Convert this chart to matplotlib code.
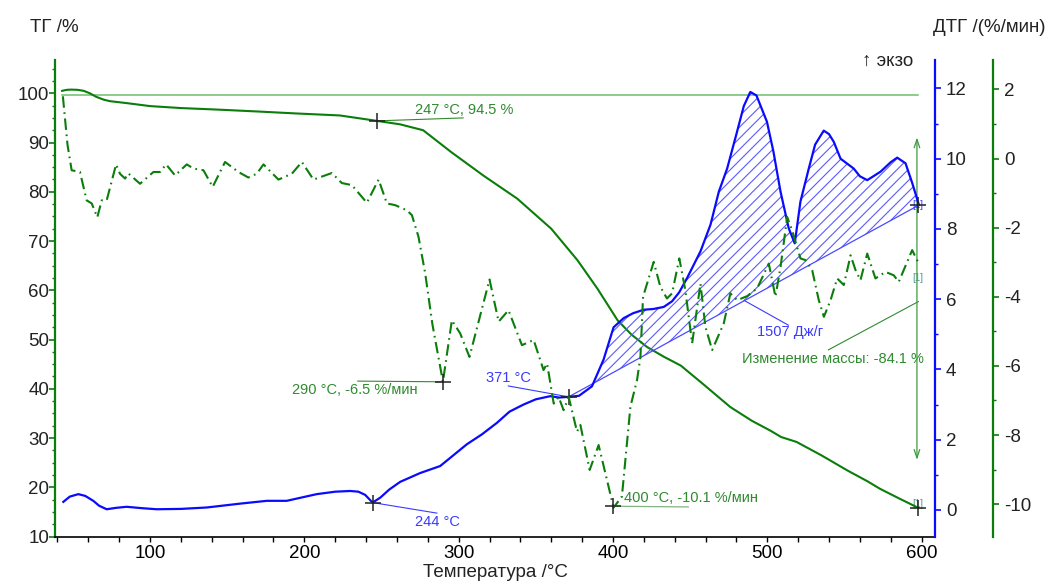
import matplotlib
matplotlib.use("Agg")
import matplotlib.pyplot as plt
import numpy as np

plt.rcParams['font.family'] = ['Liberation Sans', 'DejaVu Sans']
plt.rcParams['hatch.linewidth'] = 0.8
plt.rcParams['axes.unicode_minus'] = False

# TG, %
tg_t = [43, 46, 49, 53, 57, 61, 65, 70, 74, 85, 100, 120, 143, 170, 195, 223, 247, 262, 277, 295,
        316, 338, 360, 377, 390, 403, 412, 422, 433, 444, 459, 476, 490, 502, 509, 519, 535, 552,
        565, 573, 585, 598]
tg_v = [100.5, 100.7, 100.75, 100.7, 100.5, 100.0, 99.3, 98.7, 98.4, 98.0, 97.4, 97.0, 96.7, 96.3,
        95.9, 95.5, 94.4, 93.7, 92.5, 88.1, 83.3, 78.6, 72.5, 66.1, 60.3, 53.9, 51.0, 48.5, 46.5,
        44.7, 40.8, 36.3, 33.5, 31.5, 30.2, 29.2, 26.5, 23.4, 21.2, 19.7, 17.8, 15.8]

# DTG, %/min
dtg_t = [43.5, 46.5, 49.2, 54.6, 58.9, 62.2, 65.8, 68.7, 71.9, 78, 80.5, 83.8, 85.9, 93.5, 102.2,
         106.5, 110.4, 116.2, 123.8, 128.1, 134.6, 140.6, 148.6, 157.3, 163.7, 169.2, 173.5, 183.2,
         191.9, 198.4, 205.9, 217.8, 224.3, 230.8, 240.5, 248.1, 253.5, 258.9, 266.5, 269.7, 274,
         278.3, 283, 289.8, 295.6, 301, 307, 320, 325.9, 332.3, 341, 348.6, 355, 357.3, 361.6,
         364.8, 368, 371.3, 376.7, 378.9, 384.9, 390.7, 400.4, 405.8, 411.3, 415.6, 417.8, 419.5,
         426.4, 430.7, 435, 438.3, 443, 446.9, 451.3, 456.7, 459.9, 464.3, 471.8, 476.1, 480.5,
         487, 493.4, 501, 505.3, 508.6, 512.9, 516.1, 521.5, 524.8, 529.1, 533.4, 536.7, 541,
         545.3, 549.6, 554, 557.2, 560.4, 564.8, 570.1, 576.6, 582, 585.2, 593.9, 598.2]
dtg_v = [1.8, 0.4, -0.34, -0.39, -1.21, -1.30, -1.70, -1.21, -1.21, -0.17, -0.44, -0.58, -0.43,
         -0.73, -0.39, -0.39, -0.17, -0.49, -0.17, -0.29, -0.34, -0.82, -0.10, -0.39, -0.55, -0.44,
         -0.17, -0.61, -0.44, -0.10, -0.61, -0.42, -0.71, -0.77, -1.28, -0.61, -1.30, -1.35, -1.50,
         -1.64, -2.27, -3.32, -4.8, -6.46, -4.68, -5.06, -5.74, -3.50, -4.72, -4.39, -5.40, -5.25,
         -6.12, -5.93, -7.09, -6.9, -7.28, -6.9, -7.90, -7.71, -9.01, -8.29, -10.1, -9.78, -7.18,
         -6.41, -5.74, -4.0, -2.99, -3.71, -4.05, -3.9, -2.89, -3.81, -5.35, -3.62, -4.87, -5.54,
         -4.77, -3.9, -4.1, -3.98, -3.76, -3.04, -4.0, -3.14, -1.69, -2.08, -2.89, -2.94, -3.23,
         -4.1, -4.58, -4.1, -3.47, -3.66, -2.8, -3.23, -3.52, -2.75, -3.47, -3.28, -3.38, -3.57,
         -2.65, -3.04]

# DSC
dsc_t = [43.8, 48, 53.5, 58, 63.2, 67, 71.9, 78, 84.8, 95, 104.3, 120, 136.7, 158.4, 175.7, 188.6,
         208, 220, 229.7, 235, 239.4, 244.2, 249.2, 255, 262.1, 275, 288, 295, 305.3, 315, 324.8,
         333, 342, 350, 359.4, 365, 371.3, 378, 386.4, 393.9, 400.4, 406.9, 413, 419.9, 426, 432.9,
         438.3, 443, 448, 456.7, 463.2, 468.6, 474, 480, 484.8, 489, 493, 499.8, 504, 508.6, 513.9,
         517.8, 521.5, 526.9, 531, 536.6, 540, 543.1, 547.5, 556, 560, 564.8, 573.4, 580, 584.2,
         589.6, 594, 598.3]
dsc_v = [0.23, 0.38, 0.45, 0.40, 0.26, 0.12, 0.02, 0.06, 0.09, 0.05, 0.02, 0.03, 0.07, 0.18, 0.26,
         0.26, 0.45, 0.52, 0.54, 0.52, 0.43, 0.21, 0.35, 0.58, 0.8, 1.05, 1.25, 1.5, 1.87, 2.15, 2.48,
         2.8, 3.0, 3.15, 3.24, 3.2, 3.22, 3.25, 3.52, 4.28, 5.2, 5.46, 5.6, 5.70, 5.72, 5.78, 5.94,
         6.2, 6.6, 7.36, 8.12, 9.06, 9.72, 10.7, 11.5, 11.9, 11.8, 11.05, 10.2, 9.06, 8.02, 7.59,
         8.78, 9.72, 10.4, 10.8, 10.7, 10.48, 10.0, 9.72, 9.5, 9.39, 9.63, 9.9, 10.03, 9.87, 9.3, 8.68]

peak_start = (371.3, 3.22)
peak_end = (598.3, 8.68)

GREEN = '#0b7d0b'
BLUE = '#0a0aff'
TXT_G = '#2e8b2e'
TXT_B = '#3a3aff'

fig = plt.figure(figsize=(10.54, 5.86), dpi=100)
ax = fig.add_axes([55/1054, 49/586, 880/1054, 477/586])
ax2 = ax.twinx()
ax3 = ax.twinx()

ax.set_xlim(38.4, 608.7)
ax.set_ylim(9.9, 106.76)
ax2.set_ylim(-0.77, 12.81)
ax3.set_ylim(-10.95, 2.85)

# spines
for a in (ax, ax2, ax3):
    a.spines['top'].set_visible(False)
ax.spines['right'].set_visible(False)
ax.spines['left'].set_color(GREEN)
ax.spines['left'].set_linewidth(1.6)
ax.spines['bottom'].set_linewidth(1.2)
for s in ('left', 'bottom'):
    ax2.spines[s].set_visible(False)
    ax3.spines[s].set_visible(False)
ax2.spines['right'].set_color(BLUE)
ax2.spines['right'].set_linewidth(1.6)
ax3.spines['right'].set_color(GREEN)
ax3.spines['right'].set_linewidth(1.6)
ax3.spines['right'].set_position(('outward', 41.8))

# ticks
ax.set_xticks([100, 200, 300, 400, 500, 600])
ax.set_xticks(np.arange(40, 601, 20), minor=True)
ax.set_yticks(np.arange(10, 101, 10))
ax.set_yticks(np.arange(10, 106, 2.5), minor=True)
ax2.set_yticks(np.arange(0, 13, 2))
ax2.set_yticks(np.arange(0, 13, 1), minor=True)
ax3.set_yticks(np.arange(-10, 3, 2))
ax3.set_yticks(np.arange(-10, 3, 1), minor=True)

ax.tick_params(axis='x', which='both', direction='out', length=3.5, width=1, pad=2, labelsize=13.5)
ax.tick_params(axis='y', which='major', colors=GREEN, length=4, width=1.2, pad=0, labelsize=13.5,
               labelcolor='#222222')
ax.tick_params(axis='y', which='minor', colors=GREEN, length=2.5, width=1)
ax2.tick_params(axis='y', which='major', colors=BLUE, length=4, width=1.2, pad=4, labelsize=13.5,
                labelcolor='#222222')
ax2.tick_params(axis='y', which='minor', colors=BLUE, length=2.5, width=1)
ax3.tick_params(axis='y', which='major', colors=GREEN, length=4, width=1.2, pad=4, labelsize=13.5,
                labelcolor='#222222')
ax3.tick_params(axis='y', which='minor', colors=GREEN, length=2.5, width=1)

ax.set_xlabel('Температура /°C', fontsize=13.5, labelpad=2, color='#222222')

# curves
ax.plot(tg_t, tg_v, color=GREEN, lw=1.5, zorder=5)
ax.plot([tg_t[0], 598], [99.65, 99.65], color='#6cbf6c', lw=1.1, zorder=4)
ax3.plot(dtg_t, dtg_v, color=GREEN, lw=1.5, linestyle=(0, (5.5, 2.2, 0.8, 2.2)))
ax2.plot(dsc_t, dsc_v, color=BLUE, lw=1.6, zorder=6)

# peak area
dsc_t_arr = np.array(dsc_t)
dsc_v_arr = np.array(dsc_v)
mask = (dsc_t_arr >= peak_start[0]) & (dsc_t_arr <= peak_end[0])
base = np.interp(dsc_t_arr[mask], [peak_start[0], peak_end[0]], [peak_start[1], peak_end[1]])
ax2.fill_between(dsc_t_arr[mask], base, dsc_v_arr[mask], facecolor='none', edgecolor='#5a5aff',
                 hatch='///', lw=0)
ax2.plot([peak_start[0], peak_end[0]], [peak_start[1], peak_end[1]], color='#4a4aff', lw=0.9)

# markers
mk = dict(marker='+', ms=11, mew=1.1, color='#222222', ls='none', zorder=10)
ax.plot([247], [94.4], **mk)
ax.plot([597.5], [15.8], **mk)
ax3.plot([289.8, 400.2], [-6.46, -10.06], **mk)
ax2.plot([244.2, 371.3, 597.8], [0.21, 3.22, 8.68], **mk)

# annotations
fs = 10.5
ax.plot([247, 302.9], [94.4, 95.0], color=TXT_G, lw=0.8)
ax.text(271.7, 95.2, '247 °C, 94.5 %', color=TXT_G, fontsize=fs, va='bottom')
ax3.plot([234.6, 289.8], [-6.44, -6.46], color=TXT_G, lw=0.8)
ax3.text(273.7, -6.7, '290 °C, -6.5 %/мин', color=TXT_G, fontsize=fs, va='center', ha='right')
ax3.plot([400.2, 448.8], [-10.06, -10.08], color='#7fb57f', lw=0.9)
ax3.text(407.2, -9.83, '400 °C, -10.1 %/мин', color=TXT_G, fontsize=fs, va='center')
ax2.plot([332.2, 371.3], [3.53, 3.22], color=TXT_B, lw=0.8)
ax2.text(317.8, 3.76, '371 °C', color=TXT_B, fontsize=fs, va='center')
ax2.plot([244.2, 285.9], [0.21, -0.09], color=TXT_B, lw=0.8)
ax2.text(271.7, -0.33, '244 °C', color=TXT_B, fontsize=fs, va='center')
ax2.plot([485.6, 513.7], [5.95, 5.26], color=TXT_B, lw=0.8)
ax2.text(493.2, 5.07, '1507 Дж/г', color=TXT_B, fontsize=fs, va='center')
ax.plot([539.6, 597.9], [47.9, 57.7], color=TXT_G, lw=0.8)
ax.text(483.4, 46.0, 'Изменение массы: -84.1 %', color=TXT_G, fontsize=fs, va='center')
ax.annotate('', xy=(597, 25.0), xytext=(597, 91.6),
            arrowprops=dict(arrowstyle='<->,head_length=0.6,head_width=0.2', color='#3f9a3f', lw=0.9))

ax2.text(597.8, 8.68, '[1]', color='#3a3aff', fontsize=7, ha='center', va='center')
ax3.text(597.8, -3.45, '[1]', color='#4a9a8a', fontsize=7, ha='center', va='center')
ax.text(597.8, 16.6, '[1]', color='#4a9a8a', fontsize=7, ha='center', va='center')

fig.text(30/1054, 1 - 28/586, 'ТГ /%', fontsize=13.5, va='center', color='#222222')
fig.text(933/1054, 1 - 27/586, 'ДТГ /(%/мин)', fontsize=13.5, va='center', color='#222222')
fig.text(913/1054, 1 - 61/586, '↑ экзо', fontsize=13.5, va='center', ha='right', color='#222222')

fig.savefig('out.png', dpi=100)
